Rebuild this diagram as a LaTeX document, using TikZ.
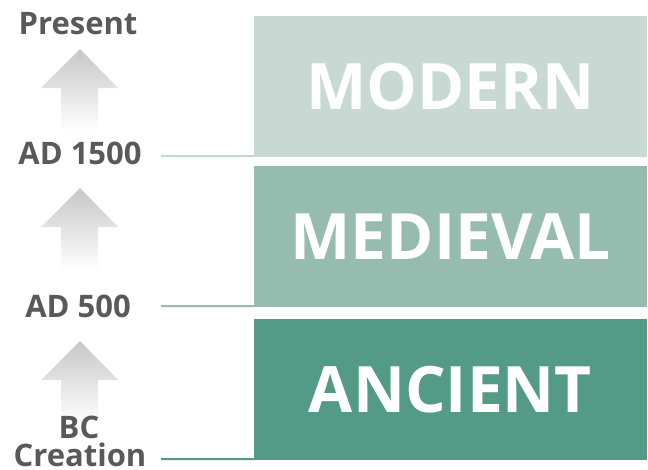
\documentclass[tikz,border=0pt]{standalone}
\usepackage{fontspec}
\setmainfont{Open Sans}
\usepackage{tikz}
\usetikzlibrary{positioning,calc}

\definecolor{moderncol}{HTML}{C7D9D2}
\definecolor{medievalcol}{HTML}{96BBAF}
\definecolor{ancientcol}{HTML}{539B86}
\definecolor{labelcol}{HTML}{595959}

\tikzset{
  erabox/.style={minimum width=393pt, minimum height=141pt, inner sep=0pt,
    text=white, font=\fontsize{64}{70}\selectfont\bfseries},
  datelabel/.style={anchor=base, inner sep=0pt, text=labelcol,
    font=\fontsize{31}{33}\selectfont\bfseries},
  link/.style={line width=2pt}
}

\begin{document}
\begin{tikzpicture}[x=1pt,y=-1pt]
    \useasboundingbox (0,0) rectangle (648,469);

    % Eras
    \node[erabox, fill=moderncol] (modern) at (450.5,86.5) {MODERN};
    \node[erabox, fill=medievalcol] (medieval) at (450.5,236.5) {MEDIEVAL};
    \node[erabox, fill=ancientcol] (ancient) at (450.5,389.5) {ANCIENT};

    % Arrows
    \foreach \tip in {49,188,341} {
        \shade[top color=black!22, bottom color=white]
            (80,\tip) -- (118,\tip+39) -- (98,\tip+39) -- (98,\tip+82)
            -- (61,\tip+82) -- (61,\tip+39) -- (41,\tip+39) -- cycle;
    }

    % Dates
    \node[datelabel] (present) at (78,34) {Present};
    \node[datelabel] (ad1500) at (80,164) {AD 1500};
    \node[datelabel] (ad500) at (78,317) {AD 500};
    \node[datelabel] (bc) at (79,438) {BC};
    \node[datelabel] (creation) at (80,466) {Creation};

    % Lines to the boxes
    \coordinate (m1) at (161,156);
    \coordinate (m2) at (161,306);
    \coordinate (m3) at (161,459);
    \draw[link, moderncol] (m1) -- ([yshift=1pt]modern.south west);
    \draw[link, medievalcol] (m2) -- ([yshift=1pt]medieval.south west);
    \draw[link, ancientcol] (m3) -- ([yshift=1pt]ancient.south west);
\end{tikzpicture}
\end{document}
